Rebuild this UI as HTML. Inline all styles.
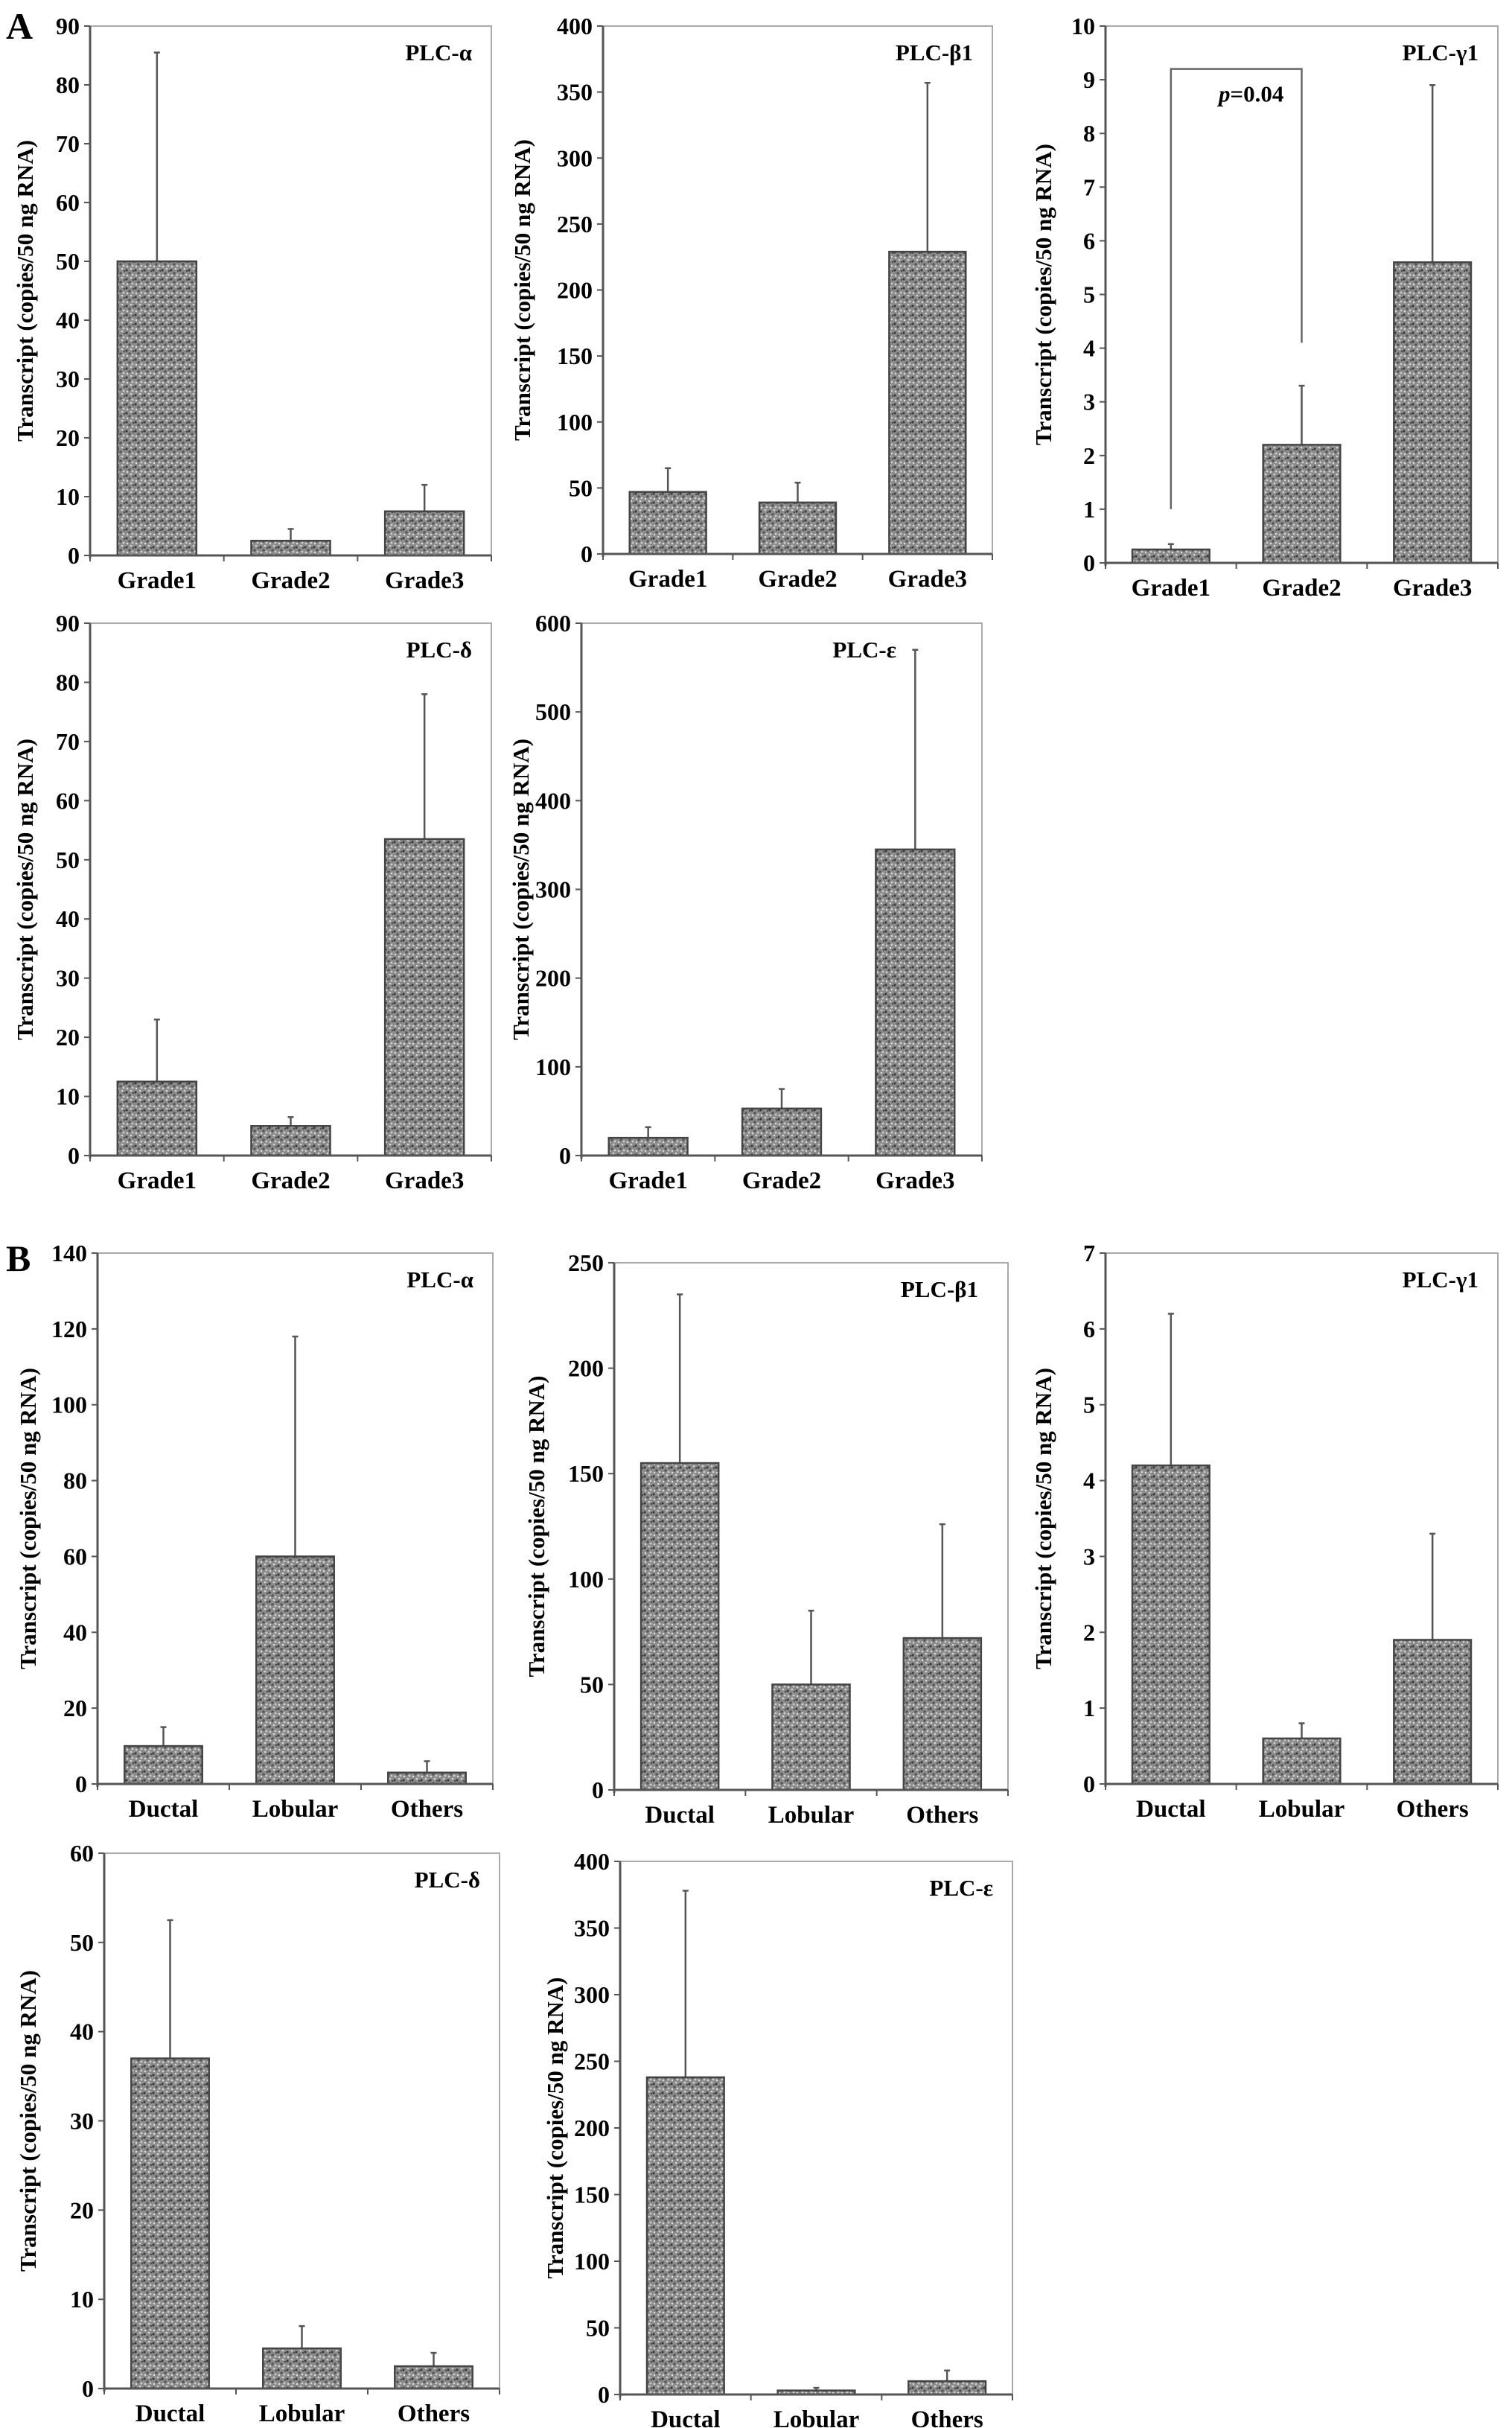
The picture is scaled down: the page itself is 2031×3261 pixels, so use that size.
<!DOCTYPE html>
<html><head><meta charset="utf-8">
<style>
html,body{margin:0;padding:0;background:#fff;}
svg{display:block;font-family:"Liberation Serif",serif;}
</style></head>
<body>
<svg id="fig" width="2031" height="3261" viewBox="0 0 2031 3261" xmlns="http://www.w3.org/2000/svg">
<defs>
<pattern id="speckle" width="12" height="12" patternUnits="userSpaceOnUse">
<rect width="12" height="12" fill="#8c8c8c"/>
<circle cx="2" cy="3" r="1.6" fill="#3a3a3a"/>
<circle cx="8" cy="1" r="1.3" fill="#d8d8d8"/>
<circle cx="6" cy="7" r="1.7" fill="#555"/>
<circle cx="10" cy="9" r="1.4" fill="#cfcfcf"/>
<circle cx="3" cy="10" r="1.2" fill="#e0e0e0"/>
<circle cx="11" cy="4" r="1.1" fill="#444"/>
</pattern>
</defs>
<text x="8" y="52" font-size="50" font-weight="bold">A</text>
<text x="8" y="1707" font-size="50" font-weight="bold">B</text>
</svg>
<script>
const gradeCats = ["Grade1","Grade2","Grade3"];
const typeCats = ["Ductal","Lobular","Others"];

const a1Values = [50, 2.5, 7.5];
const a1Errors = [85.5, 4.5, 12];
const a1Ticks = [0,10,20,30,40,50,60,70,80,90];

const a2Values = [47, 39, 229];
const a2Errors = [65, 54, 357];
const a2Ticks = [0,50,100,150,200,250,300,350,400];

const a3Values = [0.25, 2.2, 5.6];
const a3Errors = [0.35, 3.3, 8.9];
const a3Ticks = [0,1,2,3,4,5,6,7,8,9,10];

const a4Values = [12.5, 5, 53.5];
const a4Errors = [23, 6.5, 78];
const a4Ticks = [0,10,20,30,40,50,60,70,80,90];

const a5Values = [20, 53, 345];
const a5Errors = [32, 75, 570];
const a5Ticks = [0,100,200,300,400,500,600];

const b1Values = [10, 60, 3];
const b1Errors = [15, 118, 6];
const b1Ticks = [0,20,40,60,80,100,120,140];

const b2Values = [155, 50, 72];
const b2Errors = [235, 85, 126];
const b2Ticks = [0,50,100,150,200,250];

const b3Values = [4.2, 0.6, 1.9];
const b3Errors = [6.2, 0.8, 3.3];
const b3Ticks = [0,1,2,3,4,5,6,7];

const b4Values = [37, 4.5, 2.5];
const b4Errors = [52.5, 7, 4];
const b4Ticks = [0,10,20,30,40,50,60];

const b5Values = [238, 3, 10];
const b5Errors = [378, 5, 18];
const b5Ticks = [0,50,100,150,200,250,300,350,400];

const pBracket = [1.0, 9.2, 4.1];

const NS = "http://www.w3.org/2000/svg";
const svg = document.getElementById("fig");
function mk(tag, attrs, parent){
  const e = document.createElementNS(NS, tag);
  for (const k in attrs) e.setAttribute(k, attrs[k]);
  (parent||svg).appendChild(e);
  return e;
}

function panel(id, title, box, cats, vals, errs, ticks, titleX, titleRight){
  const g = mk("g", {});
  
  
  const {l, r, t, b} = box;
  const ymax = ticks[ticks.length-1];
  const y = v => b - (v / ymax) * (b - t);
  const bw = (r - l) / cats.length;
  const x = i => l + bw * (i + 0.5);
  const frame = mk("rect", {x:l, y:t, width:r-l, height:b-t, fill:"none", stroke:"#aaa", "stroke-width":2}, g);
  
  
  ticks.forEach(tv => {
    mk("line", {x1:l-8, x2:l, y1:y(tv), y2:y(tv), stroke:"#555", "stroke-width":2}, g);
    const tl = mk("text", {x:l-14, y:y(tv)+11, "font-size":32, "font-weight":"bold", "text-anchor":"end"}, g);
    tl.textContent = tv;
    
    
  });
  cats.forEach((c, i) => {
    const ex = mk("line", {x1:x(i), x2:x(i), y1:y(vals[i]), y2:y(errs[i]), stroke:"#555", "stroke-width":2.5}, g);
    
    
    mk("line", {x1:x(i)-4, x2:x(i)+4, y1:y(errs[i]), y2:y(errs[i]), stroke:"#555", "stroke-width":2.5}, g);
    const bh = b - y(vals[i]);
    const bar = mk("rect", {x:x(i)-bw*0.295, y:y(vals[i]), width:bw*0.59, height:bh, fill:"url(#speckle)", stroke:"#444", "stroke-width":2.5}, g);
    
    
    const cl = mk("text", {x:x(i), y:b+44, "font-size":33, "font-weight":"bold", "text-anchor":"middle"}, g);
    cl.textContent = c;
    
    
  });
  mk("line", {x1:l, x2:l, y1:t, y2:b+4, stroke:"#555", "stroke-width":3}, g);
  mk("line", {x1:l, x2:r, y1:b, y2:b, stroke:"#555", "stroke-width":3}, g);
  for (let i = 0; i <= cats.length; i++) mk("line", {x1:l+bw*i, x2:l+bw*i, y1:b, y2:b+8, stroke:"#555", "stroke-width":2}, g);
  const tt = mk("text", {x:r-(titleRight||26), y:t+46, "font-size":31, "font-weight":"bold", "text-anchor":"end"}, g);
  tt.textContent = title;
  
  
  const cy = (t + b) / 2;
  const yt = mk("text", {x:titleX, y:cy, "font-size":31, "font-weight":"bold", "text-anchor":"middle", transform:`rotate(-90 ${titleX} ${cy})`}, g);
  yt.textContent = "Transcript (copies/50 ng RNA)";
  
  
  return {x, y, g};
}

panel("a-plc-alpha", "PLC-α", {l:121, r:660, t:35, b:746}, gradeCats, a1Values, a1Errors, a1Ticks, 44);
panel("a-plc-beta1", "PLC-β1", {l:810, r:1333, t:35, b:744}, gradeCats, a2Values, a2Errors, a2Ticks, 712);
const p3 = panel("a-plc-gamma1", "PLC-γ1", {l:1485, r:2012, t:35, b:756}, gradeCats, a3Values, a3Errors, a3Ticks, 1412);
panel("a-plc-delta", "PLC-δ", {l:121, r:660, t:837, b:1552}, gradeCats, a4Values, a4Errors, a4Ticks, 44);
panel("a-plc-epsilon", "PLC-ε", {l:781, r:1319, t:837, b:1552}, gradeCats, a5Values, a5Errors, a5Ticks, 710, 115);
panel("b-plc-alpha", "PLC-α", {l:131, r:662, t:1683, b:2396}, typeCats, b1Values, b1Errors, b1Ticks, 48);
panel("b-plc-beta1", "PLC-β1", {l:825, r:1354, t:1696, b:2404}, typeCats, b2Values, b2Errors, b2Ticks, 731, 40);
panel("b-plc-gamma1", "PLC-γ1", {l:1485, r:2012, t:1683, b:2396}, typeCats, b3Values, b3Errors, b3Ticks, 1412);
panel("b-plc-delta", "PLC-δ", {l:140, r:671, t:2489, b:3208}, typeCats, b4Values, b4Errors, b4Ticks, 48);
panel("b-plc-epsilon", "PLC-ε", {l:833, r:1360, t:2500, b:3216}, typeCats, b5Values, b5Errors, b5Ticks, 756);

const br = mk("path", {d:`M${p3.x(0)} ${p3.y(pBracket[0])} V${p3.y(pBracket[1])} H${p3.x(1)} V${p3.y(pBracket[2])}`, fill:"none", stroke:"#666", "stroke-width":2.5}, p3.g);


const pt = mk("text", {x:(p3.x(0)+p3.x(1))/2+20, y:p3.y(pBracket[1])+44, "font-size":31, "font-weight":"bold", "text-anchor":"middle"}, p3.g);
pt.innerHTML = '<tspan font-style="italic">p</tspan>=0.04';


</script>
</body></html>
